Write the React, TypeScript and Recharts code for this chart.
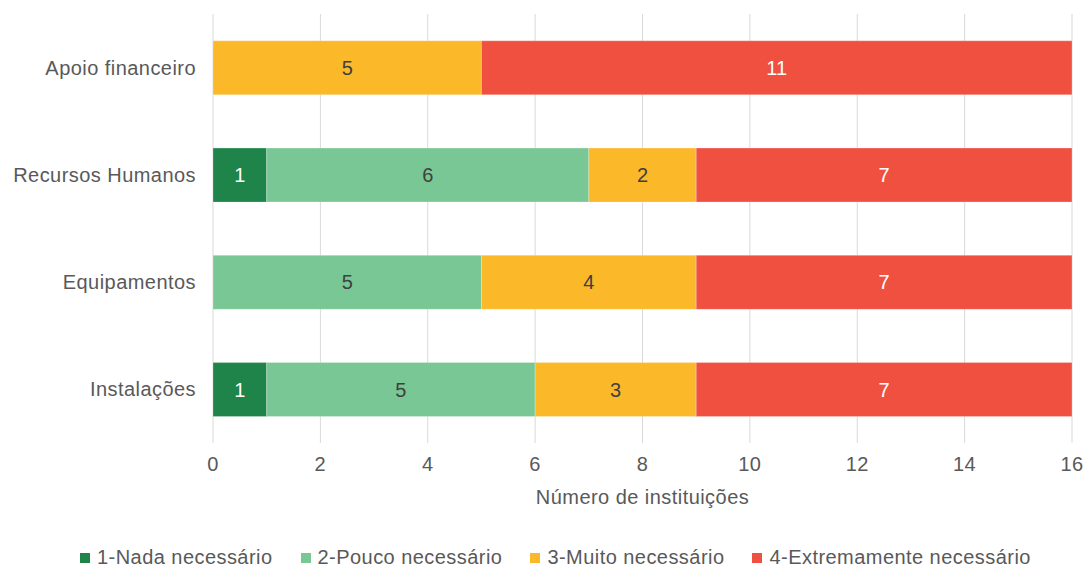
import React from 'react';
import { BarChart, Bar, XAxis, YAxis, CartesianGrid, Legend, LabelList } from 'recharts';

const categories = ['Apoio financeiro', 'Recursos Humanos', 'Equipamentos', 'Instalações'];
const nada = [0, 1, 0, 1];
const pouco = [0, 6, 5, 5];
const muito = [5, 2, 4, 3];
const extremamente = [11, 7, 7, 7];
const xTicks = [0, 2, 4, 6, 8, 10, 12, 14, 16];

const seriesNames = ['1-Nada necessário', '2-Pouco necessário', '3-Muito necessário', '4-Extremamente necessário'];
const seriesColors = ['#1E8449', '#78C794', '#FBB829', '#EF5040'];
const labelColors = ['#ffffff', '#404040', '#404040', '#ffffff'];
const seriesKeys = ['nada', 'pouco', 'muito', 'extremamente'];

const data = categories.map((c, i) => ({
  name: c,
  nada: nada[i],
  pouco: pouco[i],
  muito: muito[i],
  extremamente: extremamente[i],
}));

const FONT = '"Liberation Sans", Arial, sans-serif';
const TEXT = '#595959';
const LS = 0.45;

const makeLabel = (color: string) => (props: any) => {
  const { x, y, width, height, value } = props;
  if (!value) return null;
  return (
    <text
      x={x + width / 2}
      y={y + height / 2}
      fill={color}
      textAnchor="middle"
      dominantBaseline="central"
      fontSize={20}
      fontFamily={FONT}
    >
      {value}
    </text>
  );
};

const renderLegend = (props: any) => {
  const { payload } = props;
  return (
    <div style={{ display: 'flex', alignItems: 'center', fontFamily: FONT, fontSize: 20, letterSpacing: LS, color: TEXT, whiteSpace: 'nowrap' }}>
      {(payload || []).map((p: any, i: number) => (
        <div key={i} style={{ display: 'flex', alignItems: 'center', marginRight: 28 }}>
          <span style={{ display: 'inline-block', width: 10, height: 10, background: p.color, marginRight: 7 }} />
          <span>{p.value}</span>
        </div>
      ))}
    </div>
  );
};

export default function App() {
  return (
    <div style={{ position: 'absolute', left: 0, top: 0, width: 1087, height: 568, fontFamily: FONT }}>
      <BarChart
        width={1087}
        height={568}
        data={data}
        layout="vertical"
        margin={{ top: 14, right: 15, left: 0, bottom: 32 }}
        barCategoryGap="25%"
      >
        <CartesianGrid horizontal={false} stroke="#d9d9d9" />
        <XAxis
          type="number"
          domain={[0, 16]}
          ticks={xTicks}
          axisLine={false}
          tickLine={false}
          tickMargin={8}
          height={70}
          tick={{ fill: TEXT, fontSize: 20, fontFamily: FONT, letterSpacing: LS }}
          label={{ value: 'Número de instituições', position: 'insideBottom', offset: 9, fill: TEXT, fontSize: 20, fontFamily: FONT, letterSpacing: LS }}
        />
        <YAxis
          type="category"
          dataKey="name"
          width={213}
          axisLine={false}
          tickLine={false}
          tickMargin={11}
          tick={{ fill: TEXT, fontSize: 20, fontFamily: FONT, letterSpacing: LS }}
        />
        <Legend
          verticalAlign="bottom"
          content={renderLegend}
          wrapperStyle={{ top: 546, left: 80, width: 'auto' }}
        />
        {seriesKeys.map((k, i) => (
          <Bar
            key={k}
            dataKey={k}
            name={seriesNames[i]}
            stackId="a"
            fill={seriesColors[i]}
            stroke="#ffffff"
            strokeOpacity={0.25}
            strokeWidth={1}
            isAnimationActive={false}
          >
            <LabelList dataKey={k} content={makeLabel(labelColors[i])} />
          </Bar>
        ))}
      </BarChart>
    </div>
  );
}
